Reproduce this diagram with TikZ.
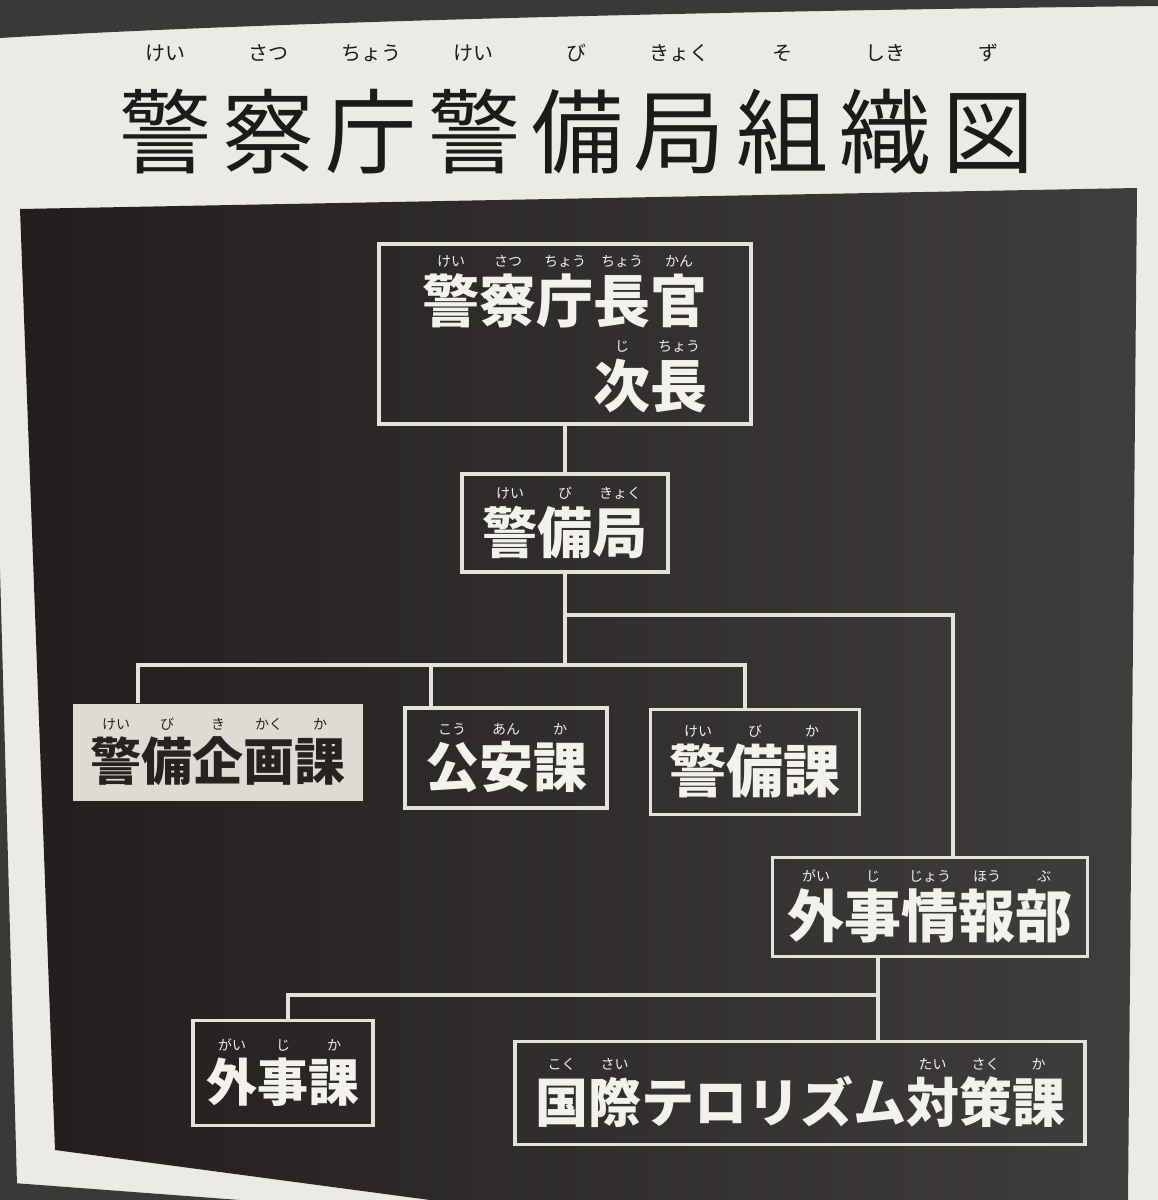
\documentclass[tikz,border=0pt]{standalone}
\usepackage{fontspec}
\newfontfamily\jp{Noto Sans CJK JP}
\usetikzlibrary{calc}
\definecolor{page}{HTML}{ECEAE5}
\definecolor{band}{HTML}{3B3838}
\definecolor{panelL}{HTML}{221E1E}
\definecolor{panelR}{HTML}{403D3D}
\definecolor{wline}{HTML}{E4E2DC}
\definecolor{wtxt}{HTML}{F2F1EE}
\definecolor{lightbox}{HTML}{DEDBD2}
\definecolor{darktxt}{HTML}{262222}
\definecolor{titletxt}{HTML}{1C1A1A}
\newlength\rbs \newlength\rbg
\setlength\rbs{14pt}\setlength\rbg{5pt}
\newcommand\rb[2]{\leavevmode\vbox{\offinterlineskip\halign{\hfil##\hfil\cr\mdseries\fontsize{\rbs}{\rbs}\selectfont\vrule height 0.9\rbs depth 0.12\rbs width 0pt #2\cr\noalign{\kern\rbg}\vrule height 0.9em depth 0.12em width 0pt #1\cr}}}
\newcommand\tg{\hspace{11pt}}
\newcommand\bxf[1]{\jp\bfseries\fontsize{#1}{85}\selectfont\setlength\rbs{14pt}\setlength\rbg{3pt}}
\begin{document}
\begin{tikzpicture}[x=1pt,y=-1pt,
  orgbox/.style={draw=wline, line width=3.5pt, text=wtxt, inner sep=0pt, anchor=center},
  litebox/.style={fill=lightbox, text=darktxt, inner sep=0pt, anchor=center},
  conn/.style={draw=wline, line width=3.5pt},
  titlestyle/.style={text=titletxt, inner sep=0pt, anchor=base,
    font={\jp\fontsize{92}{100}\selectfont\setlength\rbs{20pt}\setlength\rbg{20pt}}}]
\useasboundingbox (0,0) rectangle (1158,1200);
% page and photo surroundings
\fill[page] (0,0) rectangle (1158,1200);
\fill[band] (0,0) -- (1158,0) -- (1158,6) .. controls (800,10) and (300,20) .. (0,38) -- cycle;
\fill[band] (0,570) -- (17,1185) -- (0,1185) -- cycle;
\fill[band] (0,1182) -- (240,1200) -- (0,1200) -- cycle;
% dark panel
\shade[left color=panelL, right color=panelR] (20,209) -- (1137,188) -- (1128,1200) -- (430,1200) -- (55,1150) -- cycle;
% title
\node[titlestyle] (T) at (577,166) {\rb{警}{けい}\tg\rb{察}{さつ}\tg\rb{庁}{ちょう}\tg\rb{警}{けい}\tg\rb{備}{び}\tg\rb{局}{きょく}\tg\rb{組}{そ}\tg\rb{織}{しき}\tg\rb{図}{ず}};
% boxes
\node[orgbox, minimum width=372, minimum height=180, align=right, font=\bxf{57}] (B1) at (565,334)
  {\rb{警}{けい}\rb{察}{さつ}\rb{庁}{ちょう}\rb{長}{ちょう}\rb{官}{かん}\\\rb{次}{じ}\rb{長}{ちょう}};
\node[orgbox, minimum width=206, minimum height=98, font=\bxf{55}] (B2) at (565,523)
  {\rb{警}{けい}\rb{備}{び}\rb{局}{きょく}};
\node[litebox, minimum width=290, minimum height=97, font=\bxf{51}] (B3) at (218,752)
  {\rb{警}{けい}\rb{備}{び}\rb{企}{き}\rb{画}{かく}\rb{課}{か}};
\node[orgbox, minimum width=202, minimum height=100, font=\bxf{54}] (B4) at (506,758)
  {\rb{公}{こう}\rb{安}{あん}\rb{課}{か}};
\node[orgbox, minimum width=209, minimum height=105, font=\bxf{57}] (B5) at (755,762)
  {\rb{警}{けい}\rb{備}{び}\rb{課}{か}};
\node[orgbox, minimum width=315, minimum height=99, font=\bxf{57}] (B6) at (930,907)
  {\rb{外}{がい}\rb{事}{じ}\rb{情}{じょう}\rb{報}{ほう}\rb{部}{ぶ}};
\node[orgbox, minimum width=180, minimum height=105, font=\bxf{51}] (B7) at (283,1073)
  {\rb{外}{がい}\rb{事}{じ}\rb{課}{か}};
\node[orgbox, minimum width=570, minimum height=103, font=\bxf{53}] (B8) at (800,1093)
  {\rb{国}{こく}\rb{際}{さい}テロリズム\rb{対}{たい}\rb{策}{さく}\rb{課}{か}};
% junction points
\coordinate (j1) at (565,615);
\coordinate (j2) at (565,665);
\coordinate (u6) at (953,615);
\coordinate (l3) at (138,665);
\coordinate (l4) at (431,665);
\coordinate (l5) at (745,665);
\coordinate (k7) at (288,995);
\coordinate (k8) at (878,995);
% connectors
\draw[conn] (B1.south) -- (B2.north);
\draw[conn] (B2.south) -- (j2);
\draw[conn] (j1) -- (u6) -- (u6 |- B6.north);
\draw[conn] (l3 |- B3.north) -- (l3) -- (l5) -- (l5 |- B5.north);
\draw[conn] (l4) -- (l4 |- B4.north);
\draw[conn] (B6.south -| k8) -- (k8 |- B8.north);
\draw[conn] (k8) -- (k7) -- (k7 |- B7.north);
\end{tikzpicture}
\end{document}
